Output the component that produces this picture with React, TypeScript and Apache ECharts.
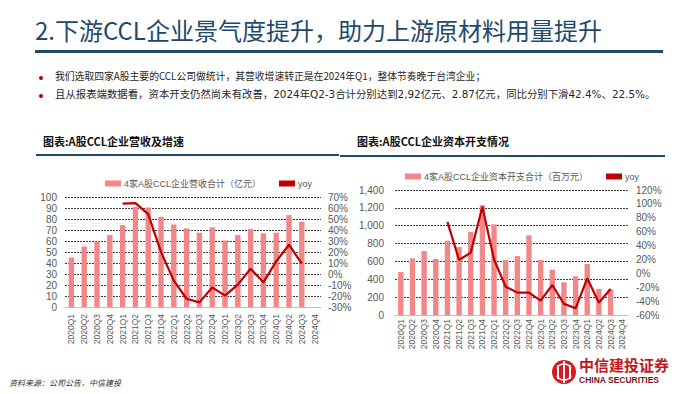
import React, { useEffect, useRef } from "react";
import * as echarts from "echarts";

const quarters = [
  "2020Q1", "2020Q2", "2020Q3", "2020Q4",
  "2021Q1", "2021Q2", "2021Q3", "2021Q4",
  "2022Q1", "2022Q2", "2022Q3", "2022Q4",
  "2023Q1", "2023Q2", "2023Q3", "2023Q4",
  "2024Q1", "2024Q2", "2024Q3", "2024Q4",
];

const revenueName = "4家A股CCL企业营收合计（亿元）";
const revenue = [45, 55, 59.5, 65.5, 74.5, 91, 90.5, 82, 75, 71.5, 67.5, 72.5, 60.5, 65.5, 71, 67, 67.5, 83.5, 77.5, null];
const revenueYoy = [null, null, null, null, 64, 64.5, 54.5, 20, -6, -22.5, -25.8, -12.2, -19.7, -9.7, 4.8, -7.6, 11.5, 26.6, 9.4, null];

const capexName = "4家A股CCL企业资本开支合计（百万元）";
const capex = [481, 634, 716, 627, 832, 761, 929, 1231, 1015, 616, 660, 892, 616, 507, 366, 433, 571, 292, 287, null];
const capexYoy = [null, null, null, null, 74, 19.2, 29.8, 96, 20, -19.2, -27.8, -27.8, -39.4, -16.8, -44, -50.4, -7.2, -42.4, -22.5, null];

const titleText = "2.下游CCL企业景气度提升，助力上游原材料用量提升";
const bullet1 = "我们选取四家A股主要的CCL公司做统计，其营收增速转正是在2024年Q1，整体节奏晚于台湾企业；";
const bullet2 = "且从报表端数据看，资本开支仍然尚未有改善，2024年Q2-3合计分别达到2,92亿元、2.87亿元，同比分别下滑42.4%、22.5%。";
const leftTitle = "图表:A股CCL企业营收及增速";
const rightTitle = "图表:A股CCL企业资本开支情况";
const sourceText = "资料来源：公司公告，中信建投";

const FONT = "'Liberation Sans', Arial, 'Noto Sans CJK SC', sans-serif";
const CJK = "'Noto Sans CJK SC', sans-serif";
const WIDE = "'DejaVu Sans', 'Noto Sans CJK SC', sans-serif";
const BAR = "#f2878a";
const LINE = "#c00000";
const NAVY = "#1d4a6b";
const AXIS_TXT = "#595959";

const gridDash = { color: "#3a3a3a", type: [2, 1] as any, width: 1 };

export default function App() {
  const ref = useRef<HTMLDivElement>(null);
  useEffect(() => {
    if (!ref.current) return;
    const chart = echarts.init(ref.current, null, { renderer: "svg" });

    const xAxisCommon = (gridIndex: number, margin: number) => ({
      type: "category",
      gridIndex,
      data: quarters,
      axisLine: { show: true, lineStyle: { color: "#bfbfbf" } },
      axisTick: { show: false },
      axisLabel: { rotate: 90, fontSize: 8.5, color: AXIS_TXT, fontFamily: FONT, margin, interval: 0 },
    });

    chart.setOption({
      animation: false,
      backgroundColor: "#ffffff",
      textStyle: { fontFamily: FONT },
      legend: [
        {
          left: 100, top: 174, itemWidth: 16, itemHeight: 6, itemGap: 18,
          textStyle: { fontSize: 9, color: AXIS_TXT, fontFamily: FONT, padding: [0, 0, 0, -2] },
          data: [
            { name: revenueName, icon: "rect" },
            { name: "yoy", icon: "rect", itemStyle: { color: LINE } },
          ],
          selectedMode: false,
        },
        {
          left: 400, top: 167, itemWidth: 16, itemHeight: 6, itemGap: 18,
          textStyle: { fontSize: 9, color: AXIS_TXT, fontFamily: FONT, padding: [0, 0, 0, -2] },
          data: [
            { name: capexName, icon: "rect" },
            { name: "yoy ", icon: "rect", itemStyle: { color: LINE } },
          ],
          selectedMode: false,
        },
      ],
      grid: [
        { left: 65, top: 197, width: 256, height: 110, containLabel: false },
        { left: 395, top: 190, width: 233, height: 125, containLabel: false },
      ],
      xAxis: [xAxisCommon(0, 7), xAxisCommon(1, 4)],
      yAxis: [
        {
          type: "value", gridIndex: 0, min: 0, max: 100, interval: 10,
          axisLabel: { fontSize: 10, color: AXIS_TXT, fontFamily: FONT, margin: 8 },
          axisLine: { show: false }, axisTick: { show: false },
          splitLine: { show: true, lineStyle: gridDash },
        },
        {
          type: "value", gridIndex: 0, min: -30, max: 70, interval: 10,
          axisLabel: { fontSize: 10, color: AXIS_TXT, fontFamily: FONT, margin: 7, formatter: "{value}%" },
          axisLine: { show: false }, axisTick: { show: false },
          splitLine: { show: false },
        },
        {
          type: "value", gridIndex: 1, min: 0, max: 1400, interval: 200,
          axisLabel: {
            fontSize: 10, color: AXIS_TXT, fontFamily: FONT, margin: 11,
            formatter: (v: number) => v.toLocaleString("en-US"),
          },
          axisLine: { show: false }, axisTick: { show: false },
          splitLine: { show: true, lineStyle: gridDash },
        },
        {
          type: "value", gridIndex: 1, min: -60, max: 120, interval: 20,
          axisLabel: { fontSize: 10, color: AXIS_TXT, fontFamily: FONT, margin: 8, formatter: "{value}%" },
          axisLine: { show: false }, axisTick: { show: false },
          splitLine: { show: false },
        },
      ],
      series: [
        {
          name: revenueName, type: "bar", xAxisIndex: 0, yAxisIndex: 0,
          data: revenue, barWidth: "42%", itemStyle: { color: BAR },
        },
        {
          name: "yoy", type: "line", xAxisIndex: 0, yAxisIndex: 1,
          data: revenueYoy, symbol: "none", lineStyle: { color: LINE, width: 2.2 }, itemStyle: { color: LINE },
        },
        {
          name: capexName, type: "bar", xAxisIndex: 1, yAxisIndex: 2,
          data: capex, barWidth: "46%", itemStyle: { color: BAR },
        },
        {
          name: "yoy ", type: "line", xAxisIndex: 1, yAxisIndex: 3,
          data: capexYoy, symbol: "none", lineStyle: { color: LINE, width: 2.2 }, itemStyle: { color: LINE },
        },
      ],
      graphic: [
        {
          type: "text", left: 35, top: 17,
          style: { text: titleText, fontSize: 24, fill: NAVY, fontFamily: CJK },
        },
        { type: "rect", shape: { x: 35, y: 50, width: 628, height: 3 }, style: { fill: NAVY } },
        { type: "circle", shape: { cx: 41, cy: 78, r: 2 }, style: { fill: LINE } },
        { type: "circle", shape: { cx: 41, cy: 96, r: 2 }, style: { fill: LINE } },
        {
          type: "text", left: 55, top: 71,
          style: { text: bullet1, fontSize: 9.8, fill: "#262626", fontFamily: CJK },
        },
        {
          type: "text", left: 55, top: 89,
          style: { text: bullet2, fontSize: 10.4, fill: "#262626", fontFamily: WIDE },
        },
        {
          type: "text", left: 43, top: 135,
          style: { text: leftTitle, fontSize: 11, fontWeight: "bold", fill: "#111", fontFamily: CJK },
        },
        {
          type: "text", left: 357, top: 135,
          style: { text: rightTitle, fontSize: 11, fontWeight: "bold", fill: "#111", fontFamily: CJK },
        },
        { type: "rect", shape: { x: 36, y: 154, width: 303, height: 2 }, style: { fill: NAVY } },
        { type: "rect", shape: { x: 340, y: 155, width: 325, height: 2 }, style: { fill: NAVY } },
        {
          type: "text", left: 9, top: 378,
          style: { text: sourceText, fontSize: 8, fontStyle: "italic", fill: "#333", fontFamily: CJK },
        },
        // logo
        { type: "circle", shape: { cx: 564, cy: 372, r: 12 }, style: { fill: "#d7191f" } },
        { type: "rect", shape: { x: 557, y: 365, width: 2, height: 14 }, style: { fill: "#fff" } },
        { type: "rect", shape: { x: 563, y: 361, width: 2, height: 22 }, style: { fill: "#fff" } },
        { type: "rect", shape: { x: 569, y: 365, width: 2, height: 14 }, style: { fill: "#fff" } },
        { type: "arc", shape: { cx: 564, cy: 372, r: 8, startAngle: Math.PI * 1.15, endAngle: Math.PI * 1.85 }, style: { stroke: "#fff", lineWidth: 1.5, fill: "none" } },
        { type: "arc", shape: { cx: 564, cy: 372, r: 8, startAngle: Math.PI * 0.15, endAngle: Math.PI * 0.85 }, style: { stroke: "#fff", lineWidth: 1.5, fill: "none" } },
        {
          type: "text", left: 579, top: 357,
          style: { text: "中信建投证券", fontSize: 15, fontWeight: "bold", fill: "#c3161c", fontFamily: CJK },
        },
        {
          type: "text", left: 579, top: 376,
          style: { text: "CHINA SECURITIES", fontSize: 8.5, fontWeight: "bold", fill: "#7a1418", fontFamily: FONT },
        },
      ],
    });
    return () => chart.dispose();
  }, []);
  return <div ref={ref} style={{ position: "fixed", left: 0, top: 0, width: 700, height: 394 }} />;
}
